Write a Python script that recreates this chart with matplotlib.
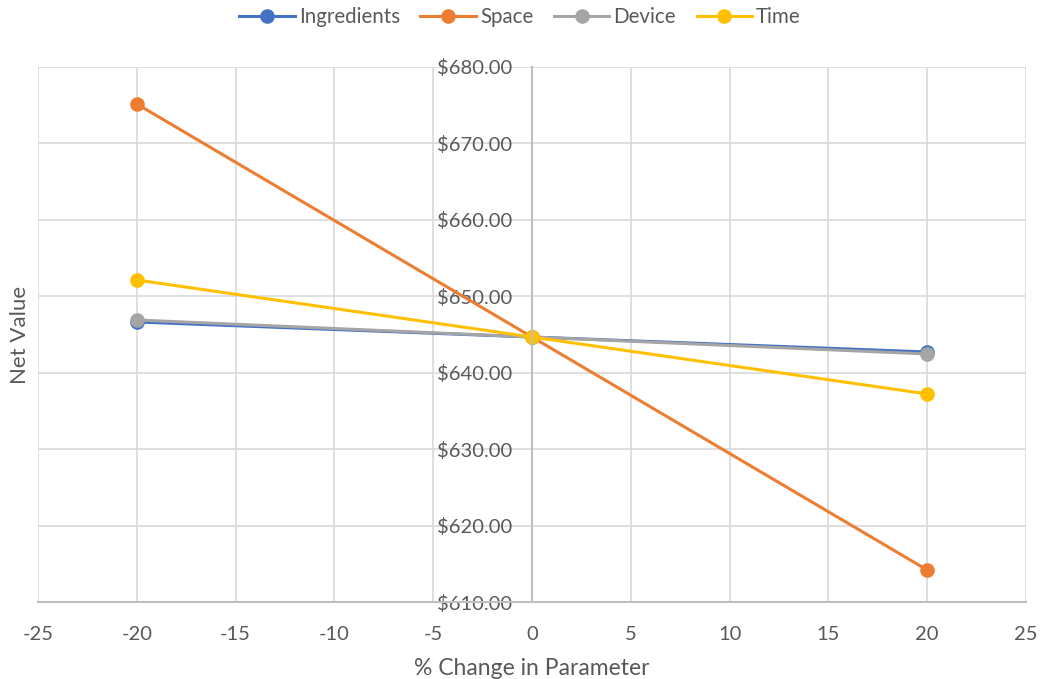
import matplotlib.pyplot as plt

pct_change = [-20, 0, 20]
ingredients = [646.64, 644.67, 642.71]
space = [675.16, 644.67, 614.19]
device = [646.90, 644.67, 642.45]
time_vals = [652.13, 644.67, 637.22]

series = [
    ("Ingredients", ingredients, "#4472C4"),
    ("Space", space, "#ED7D31"),
    ("Device", device, "#A5A5A5"),
    ("Time", time_vals, "#FFC000"),
]

plt.rcParams['font.family'] = ['Lato', 'DejaVu Sans']
plt.rcParams['axes.unicode_minus'] = False
txt = "#595959"

fig = plt.figure(figsize=(10.4, 6.79), dpi=100)
ax = fig.add_axes([38 / 1040, 77 / 679, 988 / 1040, 535 / 679])

for name, vals, col in series:
    ax.plot(pct_change, vals, color=col, linewidth=2.2, marker='o', markersize=9.5, label=name)

ax.set_xlim(-25, 25)
ax.set_ylim(610, 680)
ax.set_xticks(range(-25, 30, 5))
ax.set_yticks(range(610, 690, 10))
ax.set_yticklabels([f"${v:.2f}" for v in range(610, 690, 10)])
ax.grid(True, color="#D9D9D9", linewidth=1.2)
ax.set_axisbelow(True)

for s in ['top', 'right']:
    ax.spines[s].set_visible(False)
ax.spines['left'].set_position(('data', 0))
ax.spines['left'].set_color("#BFBFBF")
ax.spines['left'].set_linewidth(1.5)
ax.spines['bottom'].set_color("#BFBFBF")
ax.spines['bottom'].set_linewidth(1.5)

ax.tick_params(axis='both', length=0, labelsize=14.5, colors=txt)
ax.tick_params(axis='x', pad=17)
ax.tick_params(axis='y', pad=14)

ax.set_xlabel("% Change in Parameter", fontsize=16.5, color=txt, labelpad=11)
fig.text(20 / 1040, 1 - 335 / 679, "Net Value", rotation=90, fontsize=16, color=txt,
         ha='center', va='center')

fig.legend(loc='upper center', bbox_to_anchor=(0.5, 1.017), ncol=4, frameon=False,
           fontsize=14.8, labelcolor=txt, handlelength=2.7, columnspacing=1.0, handletextpad=0.2)

fig.savefig("out.png", dpi=100)
